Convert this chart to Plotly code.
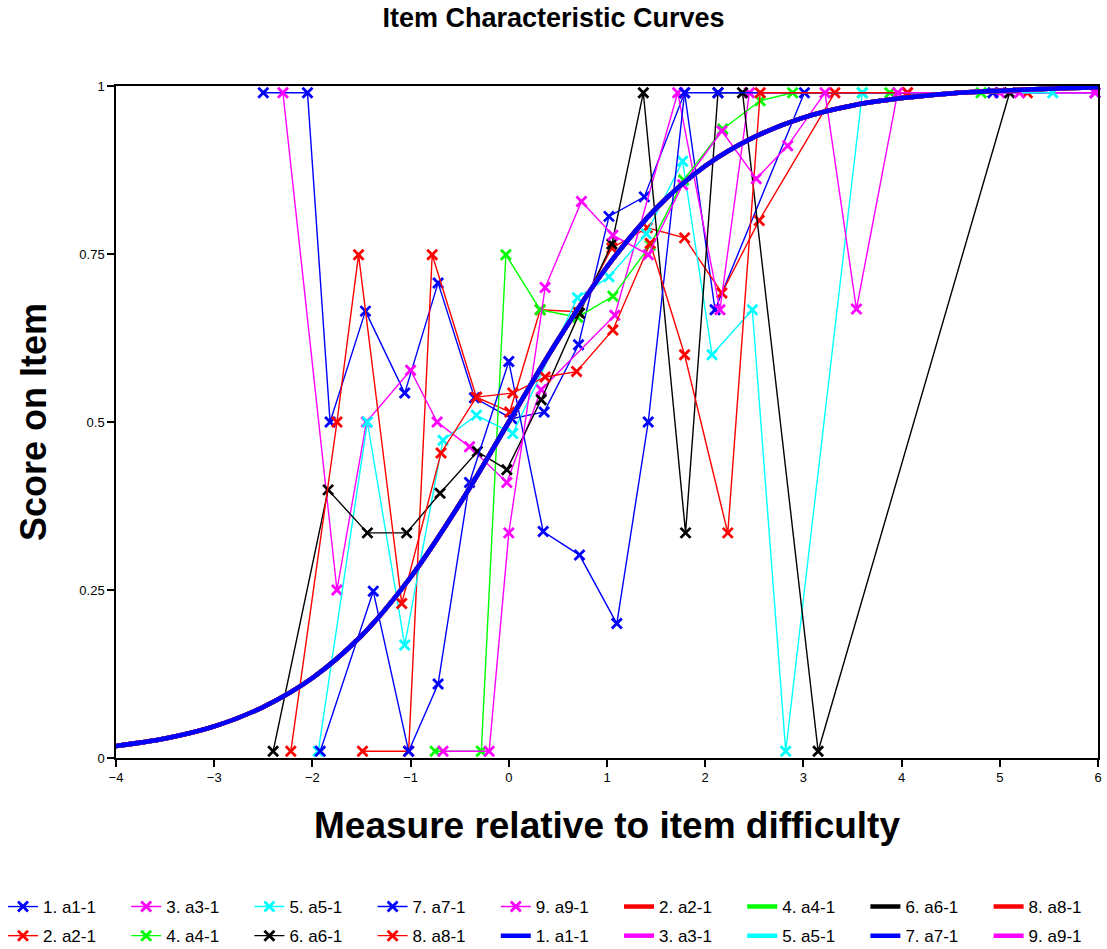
import plotly.graph_objects as go

# ---------------- data ----------------
names = ["1. a1-1", "2. a2-1", "3. a3-1", "4. a4-1", "5. a5-1",
         "6. a6-1", "7. a7-1", "8. a8-1", "9. a9-1"]
colors = ["#0000FF", "#FF0000", "#FF00FF", "#00FF00", "#00FFFF",
          "#000000", "#0000FF", "#FF0000", "#FF00FF"]

x1 = [-2.5, -2.05, -1.82, -1.46, -1.06, -0.72, -0.35, 0.03, 0.36, 0.71, 1.02, 1.38, 1.79, 2.1, 3.01, 5.97]
y1 = [0.99, 0.99, 0.5, 0.665, 0.543, 0.707, 0.536, 0.505, 0.515, 0.615, 0.806, 0.835, 0.99, 0.667, 0.99, 0.99]

x2 = [-1.49, -1.02, -0.78, -0.33, 0.01, 0.32, 0.70, 1.05, 1.41, 1.79, 2.17, 2.55, 3.32, 4.06, 5.28]
y2 = [0.01, 0.01, 0.749, 0.537, 0.515, 0.667, 0.664, 0.759, 0.789, 0.774, 0.692, 0.80, 0.99, 0.99, 0.99]

x3 = [-2.3, -1.75, -1.45, -1.0, -0.73, -0.4, -0.02, 0.33, 1.08, 1.72, 2.15, 2.45, 5.0, 5.97]
y3 = [0.99, 0.25, 0.5, 0.577, 0.5, 0.463, 0.41, 0.548, 0.659, 0.99, 0.667, 0.99, 0.99, 0.99]

x4 = [-0.75, -0.28, -0.03, 0.32, 0.70, 1.06, 1.44, 1.78, 2.18, 2.56, 2.89, 3.6, 3.88, 4.81]
y4 = [0.01, 0.01, 0.749, 0.667, 0.656, 0.687, 0.763, 0.86, 0.936, 0.978, 0.99, 0.99, 0.99, 0.99]

x5 = [-1.94, -1.44, -1.06, -0.67, -0.33, 0.04, 0.70, 1.02, 1.40, 1.77, 2.07, 2.48, 2.82, 3.6, 5.54]
y5 = [0.01, 0.5, 0.168, 0.473, 0.51, 0.483, 0.685, 0.716, 0.78, 0.888, 0.60, 0.667, 0.01, 0.99, 0.99]

x6 = [-2.4, -1.84, -1.44, -1.04, -0.7, -0.32, -0.02, 0.33, 0.72, 1.05, 1.37, 1.8, 2.13, 2.38, 3.15, 5.1]
y6 = [0.01, 0.399, 0.335, 0.335, 0.394, 0.456, 0.429, 0.533, 0.662, 0.765, 0.99, 0.335, 0.99, 0.99, 0.01, 0.99]

x7 = [-1.92, -1.38, -1.02, -0.72, -0.4, 0.0, 0.35, 0.72, 1.1, 1.42, 1.79, 2.13, 4.93]
y7 = [0.01, 0.248, 0.01, 0.11, 0.41, 0.59, 0.337, 0.302, 0.2, 0.5, 0.99, 0.99, 0.99]

x8 = [-2.22, -1.75, -1.53, -1.09, -0.69, -0.33, 0.04, 0.37, 0.69, 1.06, 1.44, 1.79, 2.23, 2.56, 4.06]
y8 = [0.01, 0.5, 0.749, 0.23, 0.454, 0.537, 0.543, 0.567, 0.575, 0.637, 0.766, 0.60, 0.335, 0.99, 0.99]

x9 = [-0.67, -0.2, 0.0, 0.37, 0.74, 1.06, 1.42, 1.77, 2.17, 2.52, 2.84, 3.22, 3.54, 3.96, 5.2]
y9 = [0.01, 0.01, 0.335, 0.70, 0.828, 0.778, 0.749, 0.853, 0.933, 0.862, 0.911, 0.99, 0.668, 0.99, 0.99]

# model curve
xm = [-4, -3.5, -3, -2.5, -2, -1.5, -1, -0.5, 0, 0.5, 1, 1.5, 2, 2.5, 3, 3.5, 4, 4.5, 5, 5.5, 6]
ym = [0.018, 0.029, 0.047, 0.076, 0.119, 0.182, 0.269, 0.378, 0.5, 0.622, 0.731, 0.818,
      0.881, 0.924, 0.953, 0.971, 0.982, 0.989, 0.993, 0.996, 0.998]

xs = [x1, x2, x3, x4, x5, x6, x7, x8, x9]
ys = [y1, y2, y3, y4, y5, y6, y7, y8, y9]

x_ticks = [-4, -3, -2, -1, 0, 1, 2, 3, 4, 5, 6]
y_ticks = [0, 0.25, 0.5, 0.75, 1]
y_ticktext = ["0", "0.25", "0.5", "0.75", "1"]

# legend: 9 columns x 2 rows, filled column by column
entries = [("obs", i) for i in range(9)] + [("mod", i) for i in range(9)]
place = {}
for n, key in enumerate(entries):
    col, row = divmod(n, 2)
    place[key] = (col, row)

W, H = 1107, 949
ML, MR, MT, MB = 116, 9, 86, 191
PW, PH = W - ML - MR, H - MT - MB
FONT = "Liberation Sans, Arial, sans-serif"

fig = go.Figure()

def legend_id(col):
    return "legend" if col == 0 else "legend%d" % (col + 1)

for i in range(9):
    col, row = place[("obs", i)]
    fig.add_trace(go.Scatter(
        x=xs[i], y=ys[i], mode="lines+markers", name=names[i],
        line=dict(color=colors[i], width=1.4),
        marker=dict(symbol="x-thin", size=10, color=colors[i],
                    line=dict(color=colors[i], width=2.8)),
        legend=legend_id(col), legendrank=row + 1, legendgroup="g%d" % (2 * col + row),
        cliponaxis=False,
    ))

# model curves: draw in reverse so that item 1 (blue) is on top
for i in reversed(range(9)):
    col, row = place[("mod", i)]
    fig.add_trace(go.Scatter(
        x=xm, y=ym, mode="lines", name=names[i], line_shape="spline",
        line=dict(color=colors[i], width=4.5),
        legend=legend_id(col), legendrank=row + 1, legendgroup="g%d" % (2 * col + row),
    ))

legends = {}
for col in range(9):
    px_left = 3 + 123.2 * col
    legends[legend_id(col)] = dict(
        orientation="v", xref="paper", yref="paper",
        x=(px_left - ML) / PW, xanchor="left",
        y=(H - MB - 889) / PH, yanchor="top",
        font=dict(family=FONT, size=17, color="#000000"),
        bgcolor="rgba(0,0,0,0)", itemwidth=30, traceorder="grouped",
        tracegroupgap=4,
    )

fig.update_layout(
    width=W, height=H,
    margin=dict(l=ML, r=MR, t=MT, b=MB, autoexpand=False),
    paper_bgcolor="white", plot_bgcolor="white",
    font=dict(family=FONT, color="#000000"),
    title=dict(text="<b>Item Characteristic Curves</b>", xref="container", x=0.5,
               xanchor="center", y=0.981, yanchor="middle",
               font=dict(size=27, color="#000000")),
    showlegend=True,
    xaxis=dict(range=[-4, 6], tickvals=x_ticks, ticks="outside", ticklen=7,
               tickwidth=1.5, tickcolor="black", showline=True, linecolor="black",
               linewidth=1.5, mirror=True, showgrid=False, zeroline=False,
               tickfont=dict(size=13),
               title=dict(text="<b>Measure relative to item difficulty</b>",
                          font=dict(size=37), standoff=28)),
    yaxis=dict(range=[0, 1], tickvals=y_ticks, ticktext=y_ticktext, ticks="outside",
               ticklen=7, tickwidth=1.5, tickcolor="black", showline=True,
               linecolor="black", linewidth=1.5, mirror=True, showgrid=False,
               zeroline=False, tickfont=dict(size=13),
               title=dict(text="<b>Score on Item</b>", font=dict(size=36), standoff=22)),
    **legends,
)

fig.write_html("out.html")
